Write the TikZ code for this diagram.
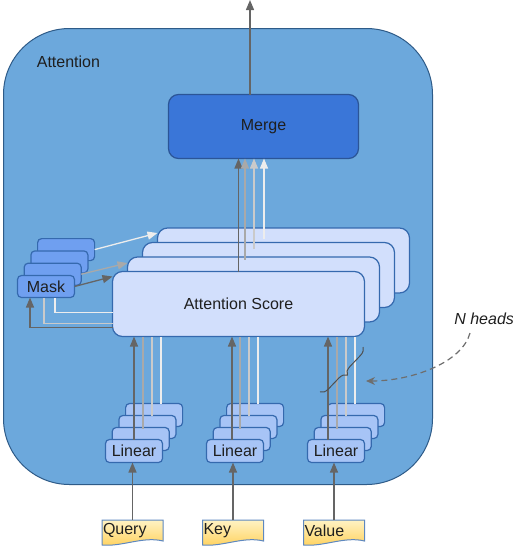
\documentclass[tikz,border=0pt]{standalone}
\usepackage{fontspec}
\setmainfont{Liberation Sans}
\usetikzlibrary{positioning, arrows.meta, calc, backgrounds, decorations.pathreplacing}

\definecolor{attfill}{HTML}{6CA8DC}
\definecolor{attline}{HTML}{2E5B88}
\definecolor{mergefill}{HTML}{3A76D8}
\definecolor{mergeline}{HTML}{2B5597}
\definecolor{scorefill}{HTML}{D2DFFC}
\definecolor{boxline}{HTML}{3569AE}
\definecolor{maskfill}{HTML}{6F9FF0}
\definecolor{linfill}{HTML}{A7C4F6}
\definecolor{doctop}{HTML}{FFF3C4}
\definecolor{docbottom}{HTML}{FFD15C}
\definecolor{docline}{HTML}{5E88C0}
\definecolor{head1c}{HTML}{656565}
\definecolor{head2c}{HTML}{A9A9A9}
\definecolor{head3c}{HTML}{CACACA}
\definecolor{head4c}{HTML}{EDEDED}
\definecolor{bracec}{HTML}{4F4F4F}
\definecolor{nheadc}{HTML}{6E6E6E}
\definecolor{labeltext}{HTML}{1F1F1F}

% paper-like outline with a wavy bottom, drawn round a named node
\newcommand{\docshape}[1]{%
  \path[docfill] (#1.north west) -- (#1.north east) -- (#1.south east)
    .. controls ([shift={(-20,-5)}]#1.south east) and ([shift={(20,6)}]#1.south west)
    .. ([shift={(0,4)}]#1.south west) -- cycle;}

\begin{document}
\begin{tikzpicture}[x=1pt, y=-1pt,
    every node/.style={font=\fontsize{16}{19}\selectfont, text=labeltext, outer sep=0pt},
    attbox/.style={rectangle, draw=attline, fill=attfill, line width=1pt, rounded corners=66pt, minimum width=429pt, minimum height=456pt, inner sep=0pt},
    mergebox/.style={rectangle, draw=mergeline, fill=mergefill, line width=1.2pt, rounded corners=10pt, minimum width=190pt, minimum height=64pt},
    scorebox/.style={rectangle, draw=boxline, fill=scorefill, line width=1.2pt, rounded corners=10pt, minimum width=252pt, minimum height=65pt},
    maskbox/.style={rectangle, draw=boxline, fill=maskfill, line width=1.2pt, rounded corners=4pt, minimum width=57pt, minimum height=22pt, inner sep=0pt},
    linbox/.style={rectangle, draw=boxline, fill=linfill, line width=1.2pt, rounded corners=4pt, minimum width=57pt, minimum height=23pt, inner sep=0pt},
    inbox/.style={anchor=north, text width=59pt, align=left, inner sep=1pt, minimum height=21pt},
    docfill/.style={draw=docline, line width=1pt, top color=doctop, bottom color=docbottom},
    head1/.style={draw=head1c, line width=1.3pt},
    head2/.style={draw=head2c, line width=1.3pt},
    head3/.style={draw=head3c, line width=1.3pt},
    head4/.style={draw=head4c, line width=1.3pt},
    arr/.style={-{Triangle[length=10pt, width=8pt]}},
    curly/.style={decorate, decoration={brace, amplitude=8pt}, draw=bracec, line width=1pt},
    headsarrow/.style={draw=nheadc, line width=1.2pt, dash pattern=on 6pt off 4pt, -{Stealth[length=9pt, width=8pt]}}]

  \useasboundingbox (0,0) rectangle (513,550);

  % outer block
  \node[attbox] (attention) at (218,256.5) {};
  \node[anchor=base west] (attlabel) at ([shift={(30,39)}]attention.north west) {Attention};

  \node[mergebox] (merge) at (263.5,126.5) {Merge};
  \coordinate (output) at (250,0);

  % score heads, back to front
  \node[scorebox] (score4) at (283.5,260.5) {};
  \node[scorebox] (score3) at ([shift={(-15,14.5)}]score4.center) {};
  \node[scorebox] (score2) at ([shift={(-15,14.5)}]score3.center) {};
  \node[scorebox] (score1) at ([shift={(-15,14.5)}]score2.center) {Attention Score};

  \node[maskbox] (mask4) at (66.1,249.6) {};
  \node[maskbox] (mask3) at ([shift={(-6.7,12.3)}]mask4.center) {};
  \node[maskbox] (mask2) at ([shift={(-6.7,12.3)}]mask3.center) {};
  \node[maskbox] (mask1) at ([shift={(-6.7,12.3)}]mask2.center) {Mask};

  % linear heads
  \node[linbox] (qlin4) at (154.1,415) {};
  \node[linbox] (qlin3) at ([shift={(-6.7,12)}]qlin4.center) {};
  \node[linbox] (qlin2) at ([shift={(-6.7,12)}]qlin3.center) {};
  \node[linbox] (qlin1) at ([shift={(-6.7,12)}]qlin2.center) {Linear};

  \node[linbox] (klin4) at (255.1,415) {};
  \node[linbox] (klin3) at ([shift={(-6.7,12)}]klin4.center) {};
  \node[linbox] (klin2) at ([shift={(-6.7,12)}]klin3.center) {};
  \node[linbox] (klin1) at ([shift={(-6.7,12)}]klin2.center) {Linear};

  \node[linbox] (vlin4) at (356.1,415) {};
  \node[linbox] (vlin3) at ([shift={(-6.7,12)}]vlin4.center) {};
  \node[linbox] (vlin2) at ([shift={(-6.7,12)}]vlin3.center) {};
  \node[linbox] (vlin1) at ([shift={(-6.7,12)}]vlin2.center) {Linear};

  % inputs
  \node[inbox] (query) at (132.5,520) {Query};
  \node[inbox] (key) at (233,520) {Key};
  \node[inbox] (value) at (334,520) {Value};
  \begin{scope}[on background layer]
    \docshape{query}
    \docshape{key}
    \docshape{value}
  \end{scope}

  \draw[head1, arr] (query.north) -- (query.north |- qlin1.south);
  \draw[head1, arr] (key.north) -- (key.north |- klin1.south);
  \draw[head1, arr] (value.north) -- (value.north |- vlin1.south);

  % one line per head into the score block
  \coordinate (q1) at (qlin1.north);
  \coordinate (q2) at ([shift={(9,-11)}]qlin1.north);
  \coordinate (q3) at ([shift={(18,-24)}]qlin1.north);
  \coordinate (q4) at ([shift={(27,-36)}]qlin1.north);
  \coordinate (k1) at ([shift={(-3,0)}]klin1.north);
  \coordinate (k2) at ([shift={(5,-11)}]klin1.north);
  \coordinate (k3) at ([shift={(14,-24)}]klin1.north);
  \coordinate (k4) at ([shift={(23,-36)}]klin1.north);
  \coordinate (v1) at ([shift={(-8,0)}]vlin1.north);
  \coordinate (v2) at ([shift={(1,-11)}]vlin1.north);
  \coordinate (v3) at ([shift={(10,-24)}]vlin1.north);
  \coordinate (v4) at ([shift={(19,-36)}]vlin1.north);

  \draw[head4] (q4) -- (q4 |- score1.south);
  \draw[head3] (q3) -- (q3 |- score1.south);
  \draw[head2] (q2) -- (q2 |- score1.south);
  \draw[head1, arr] (q1) -- (q1 |- score1.south);
  \draw[head4] (k4) -- (k4 |- score1.south);
  \draw[head3] (k3) -- (k3 |- score1.south);
  \draw[head2] (k2) -- (k2 |- score1.south);
  \draw[head1, arr] (k1) -- (k1 |- score1.south);
  \draw[head4] (v4) -- (v4 |- score1.south);
  \draw[head3] (v3) -- (v3 |- score1.south);
  \draw[head2] (v2) -- (v2 |- score1.south);
  \draw[head1, arr] (v1) -- (v1 |- score1.south);

  % score heads into merge
  \coordinate (h2) at ([shift={(6.5,-12)}]score1.north);
  \coordinate (h3) at ([shift={(15.5,-23)}]score1.north);
  \coordinate (h4) at ([shift={(25.5,-33)}]score1.north);
  \draw[head1, arr] (score1.north) -- (score1.north |- merge.south);
  \draw[head2, arr] (h2) -- (h2 |- merge.south);
  \draw[head3, arr] (h3) -- (h3 |- merge.south);
  \draw[head4, arr] (h4) -- (h4 |- merge.south);
  \draw[head1, arr] ([xshift=-13.5pt]merge.north) -- (output);

  % mask loop
  \draw[head1, arr] (mask1.east) -- ([yshift=-5pt]score1.north west);
  \draw[head2, arr] (mask2.east) -- ([yshift=-6pt]score2.north west);
  \draw[head4, arr] (mask4.east) -- ([yshift=-5pt]score4.north west);
  \draw[head1, arr] ([yshift=9pt]score1.south west) -| ([xshift=-16pt]mask1.south);
  \draw[head3] ([yshift=13pt]score1.south west) -| ([xshift=-2pt]mask1.south);
  \draw[head4] ([yshift=24pt]score1.south west) -| ([xshift=9pt]mask1.south);

  % N heads note
  \coordinate (bracetop) at (363,347);
  \coordinate (bracebottom) at (320,392);
  \draw[curly] (bracetop) -- (bracebottom);
  \coordinate (bracetip) at (366,381);
  \node[anchor=base west, font=\fontsize{16}{19}\selectfont\itshape] (nheads) at (451,324) {N heads};
  \draw[headsarrow] ([shift={(19,9)}]nheads.base west) .. controls +(-8,30) and +(45,0) .. (bracetip);

\end{tikzpicture}
\end{document}
